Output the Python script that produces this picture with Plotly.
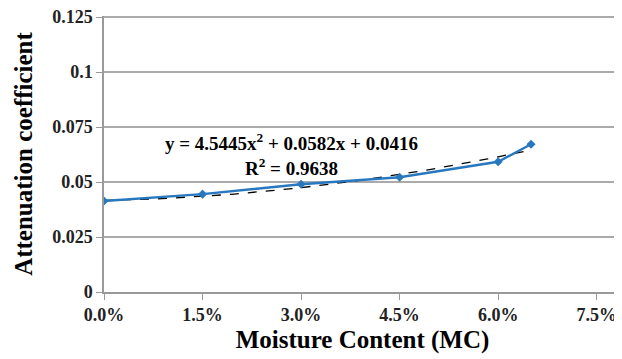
import numpy as np
import plotly.graph_objects as go

moisture = [0.0, 0.015, 0.030, 0.045, 0.060, 0.065]
attenuation = [0.0414, 0.0445, 0.0490, 0.0522, 0.0592, 0.0672]
fit_coeffs = [4.5445, 0.0582, 0.0416]  # from the chart's trendline equation
x_ticks = [0.0, 0.015, 0.030, 0.045, 0.060, 0.075]
x_tick_labels = ["0.0%", "1.5%", "3.0%", "4.5%", "6.0%", "7.5%"]
y_ticks = [0, 0.025, 0.05, 0.075, 0.1, 0.125]
y_tick_labels = ["0", "0.025", "0.05", "0.075", "0.1", "0.125"]

xf = np.linspace(moisture[0], moisture[-1], 60)
yf = np.polyval(fit_coeffs, xf)

font = "Liberation Serif"
fig = go.Figure()
fig.add_trace(go.Scatter(x=xf, y=yf, mode="lines",
                         line=dict(color="black", width=1.3, dash="dash"),
                         showlegend=False, hoverinfo="skip"))
fig.add_trace(go.Scatter(x=moisture, y=attenuation, mode="lines+markers",
                         line=dict(color="#2878c0", width=2.4),
                         marker=dict(symbol="diamond", size=7, color="#2878c0"),
                         showlegend=False))

fig.add_annotation(x=0.0285, y=0.0627, xref="x", yref="y",
                   text="y = 4.5445x<sup>2</sup> + 0.0582x + 0.0416<br>R<sup>2</sup> = 0.9638",
                   showarrow=False, align="center",
                   font=dict(family=font, size=19, color="black", weight="bold"))

# the page body has an 8px margin, so the figure is sized/offset to compensate
fig.update_layout(
    width=614, height=351,
    margin=dict(l=96, r=1, t=8, b=67),
    paper_bgcolor="white", plot_bgcolor="white",
    font=dict(family=font, color="black"),
)
fig.update_xaxes(range=[0, 0.0787], tickvals=x_ticks, ticktext=x_tick_labels,
                 tickfont=dict(family=font, size=18, color="#222", weight="bold"),
                 showgrid=False, zeroline=False, automargin=False,
                 showline=True, linecolor="#999", linewidth=1.5,
                 ticks="outside", ticklen=6, tickcolor="#999",
                 title=dict(text="Moisture Content (MC)",
                            font=dict(family=font, size=25, color="black", weight="bold"),
                            standoff=6))
fig.update_yaxes(range=[0, 0.1255], tickvals=y_ticks, ticktext=y_tick_labels,
                 tickfont=dict(family=font, size=18, color="#222", weight="bold"),
                 showgrid=True, gridcolor="#aaa", gridwidth=1.5, zeroline=False,
                 automargin=False, ticklabeloverflow="allow",
                 showline=True, linecolor="#999", linewidth=1.5,
                 ticks="outside", ticklen=6, tickcolor="#999",
                 title=dict(text="Attenuation coefficient",
                            font=dict(family=font, size=25, color="black", weight="bold"),
                            standoff=12))

fig.write_html("out.html")
